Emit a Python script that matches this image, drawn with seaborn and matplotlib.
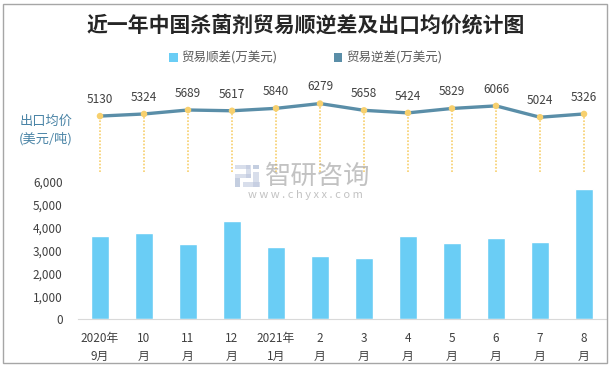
import numpy as np
import pandas as pd
import matplotlib
matplotlib.use('Agg')
import matplotlib.pyplot as plt
import seaborn as sns
from matplotlib.patches import Patch, Rectangle
from matplotlib.ticker import FuncFormatter

sns.set_style('white')
plt.rcParams['font.family'] = ['Noto Sans CJK SC', 'DejaVu Sans']

months = ['2020年\n9月', '10\n月', '11\n月', '12\n月', '2021年\n1月', '2\n月',
          '3\n月', '4\n月', '5\n月', '6\n月', '7\n月', '8\n月']
surplus = [3640, 3770, 3290, 4290, 3160, 2760, 2680, 3640, 3330, 3550, 3380, 5690]
price = [5130, 5324, 5689, 5617, 5840, 6279, 5658, 5424, 5829, 6066, 5024, 5326]

bar_color = '#6ACDF5'
line_color = '#5A8EA8'
dot_color = '#F7D06E'
text_color = '#404040'

df = pd.DataFrame({'month': months, 'surplus': surplus, 'price': price, 'pos': range(len(months))})

W, H = 611, 368
fig = plt.figure(figsize=(W / 100, H / 100), dpi=100)

def px_rect(x0, y0, x1, y1, color):
    # rectangle given in pixel coords (top-left origin)
    fig.patches.append(Rectangle((x0 / W, 1 - y1 / H), (x1 - x0) / W, (y1 - y0) / H,
                                 transform=fig.transFigure, facecolor=color,
                                 edgecolor='none', alpha=0.55, zorder=0))

# watermark (behind plots)
logo_light = '#B9C4DC'
logo_dark = '#95A6C8'
px_rect(235, 165, 250, 169, logo_light)
px_rect(246, 165, 251, 178, logo_light)
px_rect(235, 174, 251, 178, logo_light)
px_rect(235, 178, 240, 187, logo_dark)
px_rect(253, 165, 259, 169, logo_dark)
px_rect(253, 172, 259, 187, logo_light)
px_rect(243, 182, 260, 187, logo_light)
fig.text(265 / W, 1 - 176 / H, '智研咨询', ha='left', va='center', fontsize=19,
         color='#9A9A9A', alpha=0.6, zorder=0)
fig.text(305 / W, 1 - 195 / H, 'w w w . c h y x x . c o m', ha='center', va='center',
         fontsize=8, color='#9A9A9A', alpha=0.6)

# bar panel
ax = fig.add_axes([78 / W, 1 - 319.3 / H, 528 / W, (319.3 - 182) / H])
sns.barplot(data=df, x='month', y='surplus', color=bar_color, saturation=1, width=0.41, ax=ax)
ax.set_ylim(0, 6000)
ax.set_xlim(-0.5, len(months) - 0.5)
ax.set_yticks(range(0, 6001, 1000))
ax.yaxis.set_major_formatter(FuncFormatter(lambda v, p: f'{int(v):,}'))
ax.set_xlabel('')
ax.set_ylabel('')
for s in ['top', 'right', 'left']:
    ax.spines[s].set_visible(False)
ax.spines['bottom'].set_color('#D9D9D9')
ax.tick_params(axis='y', length=0, pad=11, labelsize=8.5, labelcolor=text_color)
ax.tick_params(axis='x', length=0, pad=9, labelsize=8.5, labelcolor=text_color)
for lab in ax.get_xticklabels():
    lab.set_linespacing(1.5)
ax.patch.set_alpha(0)

# price panel
ax2 = fig.add_axes([78 / W, 1 - 172 / H, 528 / W, 80 / H])
ax2.vlines(df['pos'], 0, df['price'], colors=dot_color, linestyles=(0, (1, 1)), linewidth=1.2)
sns.lineplot(data=df, x='pos', y='price', color=line_color, linewidth=2.4, ax=ax2, zorder=3)
ax2.scatter(df['pos'], df['price'], s=22, color=dot_color, zorder=4, edgecolors='none')
for x, v in zip(df['pos'], df['price']):
    ax2.annotate(str(v), (x, v), xytext=(0, 12), textcoords='offset points',
                 ha='center', va='center', fontsize=8.5, color=text_color)
ax2.set_xlim(-0.5, len(months) - 0.5)
ax2.set_ylim(0, 80 / 0.0109)
ax2.axis('off')

# texts
fig.text(0.5, 1 - 25 / H, '近一年中国杀菌剂贸易顺逆差及出口均价统计图', ha='center', va='center',
         fontsize=15, fontweight='bold', color='#262626')
fig.text(20 / W, 1 - 121 / H, '出口均价', ha='left', va='center', fontsize=9.5, color='#4A84A6')
fig.text(19 / W, 1 - 139 / H, '(美元/吨)', ha='left', va='center', fontsize=9.5, color='#4A84A6')

handles = [Patch(facecolor=bar_color, edgecolor='none', label='贸易顺差(万美元)'),
           Patch(facecolor=line_color, edgecolor='none', label='贸易逆差(万美元)')]
leg = fig.legend(handles=handles, loc='center', bbox_to_anchor=(0.5, 1 - 58 / H), ncol=2,
                 frameon=False, fontsize=9, handlelength=0.7, handleheight=0.7,
                 handletextpad=0.3, columnspacing=4.5)
for t in leg.get_texts():
    t.set_color('#595959')

fig.patches.append(Rectangle((3 / W, 1 - 363 / H), 604 / W, 359 / H,
                             transform=fig.transFigure, fill=False, edgecolor='#A6A6A6', linewidth=1))

fig.savefig('out.png', dpi=100)
